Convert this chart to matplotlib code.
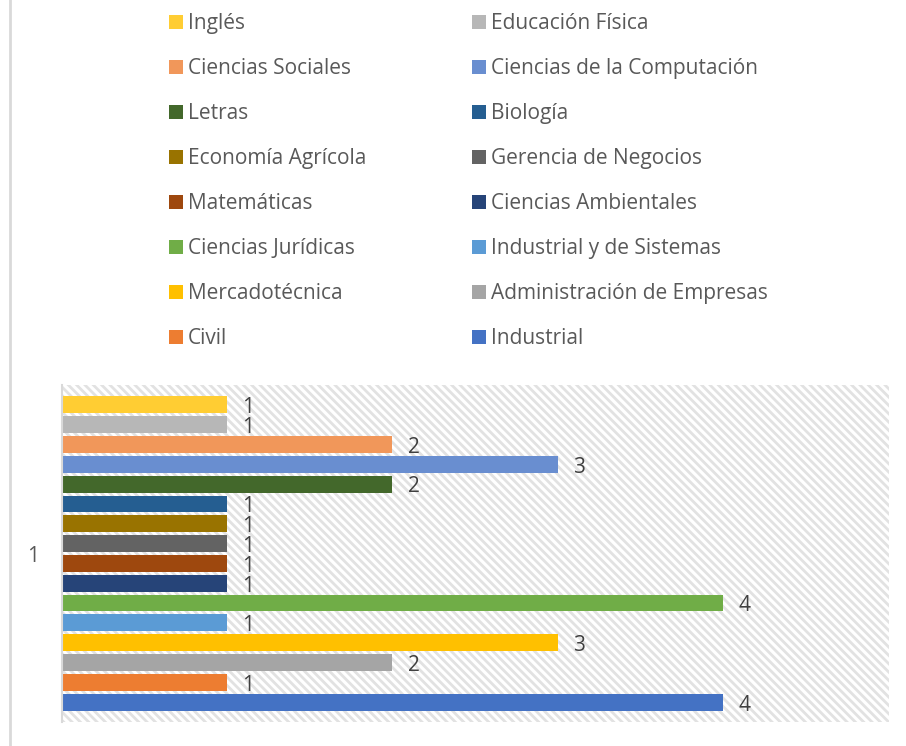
"""Horizontal bar chart: students per programme (one category)."""
import matplotlib
matplotlib.use('Agg')
from matplotlib import pyplot as plt
from matplotlib.patches import Rectangle
from matplotlib.lines import Line2D

# series in Excel order (bottom bar first)
carreras = ['Industrial', 'Civil', 'Administración de Empresas', 'Mercadotécnica',
            'Industrial y de Sistemas', 'Ciencias Jurídicas', 'Ciencias Ambientales',
            'Matemáticas', 'Gerencia de Negocios', 'Economía Agrícola', 'Biología',
            'Letras', 'Ciencias de la Computación', 'Ciencias Sociales',
            'Educación Física', 'Inglés']
valores = [4, 1, 2, 3, 1, 4, 1, 1, 1, 1, 1, 2, 3, 2, 1, 1]
colores = ['#4472C4', '#ED7D31', '#A5A5A5', '#FFC000', '#5B9BD5', '#70AD47',
           '#264478', '#9E480E', '#636363', '#997300', '#255E91', '#43682B',
           '#698ED0', '#F1975A', '#B7B7B7', '#FFCD33']
categoria = ['1']

plt.rcParams['font.family'] = ['Open Sans', 'DejaVu Sans']
plt.rcParams['hatch.linewidth'] = 2.0
plt.rcParams['hatch.color'] = '#e2e2e2'
W, H = 906, 746
fig = plt.figure(figsize=(W / 100, H / 100), dpi=100)
txt = '#595959'
fs = 15

# left frame edge of the original chart
fig.add_artist(Line2D([9.5 / W, 9.5 / W], [0, 1], color='#d9d9d9', lw=2))

ax = fig.add_axes([61.5 / W, (H - 722) / H, (888.5 - 61.5) / W, (722 - 385) / H])
ax.set_facecolor('white')
ax.add_patch(Rectangle((0, 0), 1, 1, transform=ax.transAxes, facecolor='white',
                       edgecolor='#e2e2e2', hatch='\\\\\\\\', lw=0, zorder=0))

pos = list(range(len(valores)))
ax.barh(pos, valores, height=0.85, color=colores, zorder=2)
for p, v in zip(pos, valores):
    ax.annotate(str(v), (v, p), xytext=(11, -6), textcoords='offset points',
                ha='left', va='baseline', fontsize=fs, color='#404040')

ax.set_xlim(0, 5)
ax.set_ylim(-1, 16)
ax.set_xticks([])
ax.set_yticks([7.5])
ax.set_yticklabels(categoria, fontsize=fs, color=txt)
ax.tick_params(axis='y', length=0, pad=16)
for s in ['top', 'right', 'bottom']:
    ax.spines[s].set_visible(False)
ax.spines['left'].set_color('#d9d9d9')
ax.spines['left'].set_linewidth(1.5)

# legend, two columns, reversed series order
ley = list(zip(carreras, colores))[::-1]
for i, (nom, col) in enumerate(ley):
    fila, colu = divmod(i, 2)
    x0 = 169 if colu == 0 else 472
    yb = 29 + 45 * fila
    fig.add_artist(Rectangle((x0 / W, 1 - yb / H), 14 / W, 14 / H,
                             facecolor=col, edgecolor='none'))
    fig.text((x0 + 19) / W, 1 - yb / H, nom, fontsize=fs, color=txt,
             ha='left', va='baseline')

fig.savefig('out.png', dpi=100)
